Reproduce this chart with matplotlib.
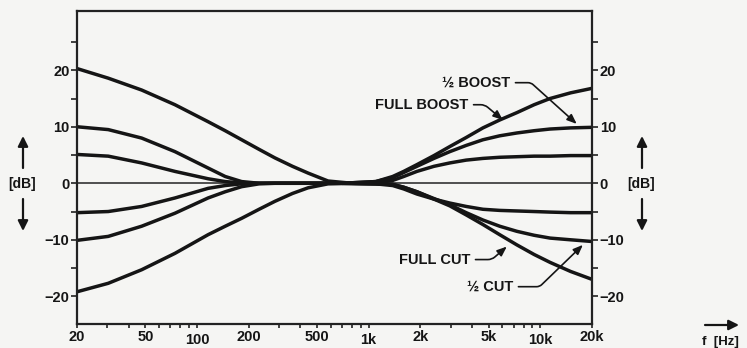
import numpy as np
import matplotlib.pyplot as plt
from matplotlib.patches import FancyArrowPatch

plt.rcParams['font.family'] = ['Liberation Sans', 'DejaVu Sans']
plt.rcParams['font.weight'] = 'bold'

# bass side (Hz / dB)
bass_f = [20, 30.4, 47.6, 74.4, 116, 146, 182, 230, 284, 360, 444, 580, 800, 1200]
bass_full_boost = [20.3, 18.6, 16.5, 13.9, 10.9, 9.3, 7.7, 6.0, 4.5, 3.0, 1.8, 0.4, 0.0, 0.0]
bass_half_boost = [10.0, 9.5, 8.0, 5.6, 2.7, 1.2, 0.3, 0.0, 0.0, 0.0, 0.0, 0.0, 0.0, 0.0]
bass_quarter_boost = [5.1, 4.8, 3.6, 2.1, 0.8, 0.3, 0.05, 0.0, 0.0, 0.0, 0.0, 0.0, 0.0, 0.0]
bass_quarter_cut = [-5.2, -5.0, -4.1, -2.6, -0.9, -0.4, -0.1, 0.0, 0.0, 0.0, 0.0, 0.0, 0.0, 0.0]
bass_half_cut = [-10.1, -9.4, -7.6, -5.3, -2.6, -1.5, -0.6, -0.1, 0.0, 0.0, 0.0, 0.0, 0.0, 0.0]
bass_full_cut = [-19.2, -17.7, -15.3, -12.4, -9.1, -7.6, -6.2, -4.6, -3.2, -1.8, -0.8, -0.1, 0.0, 0.0]

# treble side
treb_f = [700, 1100, 1380, 1600, 1910, 2400, 2970, 3700, 4630, 5800, 7300, 9200, 11400, 15000, 20000]
treb_full_boost = [0.0, 0.3, 1.2, 2.1, 3.3, 4.9, 6.5, 8.1, 9.8, 11.2, 12.5, 13.9, 15.0, 16.0, 16.8]
treb_half_boost = [0.0, 0.3, 1.0, 1.9, 3.0, 4.4, 5.6, 6.7, 7.7, 8.4, 8.9, 9.3, 9.6, 9.8, 9.9]
treb_quarter_boost = [0.0, 0.1, 0.5, 1.2, 2.1, 3.0, 3.6, 4.1, 4.4, 4.6, 4.7, 4.8, 4.8, 4.9, 4.9]
treb_quarter_cut = [0.0, -0.1, -0.4, -1.0, -1.9, -2.8, -3.5, -4.1, -4.6, -4.8, -4.9, -5.0, -5.1, -5.2, -5.2]
treb_half_cut = [0.0, -0.1, -0.2, -0.7, -1.5, -2.7, -3.8, -5.2, -6.5, -7.6, -8.5, -9.2, -9.7, -10.0, -10.3]
treb_full_cut = [0.0, -0.1, -0.2, -0.7, -1.5, -2.8, -4.0, -5.6, -7.3, -9.1, -10.9, -12.6, -14.0, -15.6, -17.0]

xticks = [20, 50, 100, 200, 500, 1000, 2000, 5000, 10000, 20000]
xticklabels = ['20', '50', '100', '200', '500', '1k', '2k', '5k', '10k', '20k']
xminor = [30, 40, 60, 70, 80, 90, 300, 400, 600, 700, 800, 900,
          3000, 4000, 6000, 7000, 8000, 9000]

bg = '#f5f5f3'
ink = '#151515'

fig = plt.figure(figsize=(7.47, 3.48), dpi=100, facecolor=bg)
ax = fig.add_axes([0.1031, 0.069, 0.6894, 0.898])
ax.set_facecolor(bg)

ax.axhline(0, color='#333333', lw=1.2, zorder=1)
for y in [bass_full_boost, bass_half_boost, bass_quarter_boost,
          bass_quarter_cut, bass_half_cut, bass_full_cut]:
    ax.plot(bass_f, y, color=ink, lw=2.5, solid_capstyle='round',
            solid_joinstyle='round', zorder=2)
for y in [treb_full_boost, treb_half_boost, treb_quarter_boost,
          treb_quarter_cut, treb_half_cut, treb_full_cut]:
    ax.plot(treb_f, y, color=ink, lw=2.5, solid_capstyle='round',
            solid_joinstyle='round', zorder=2)

ax.set_xscale('log')
ax.set_xlim(20, 20000)
ax.set_ylim(-24.9, 30.4)
ax.set_xticks(xticks)
ax.set_xticklabels(xticklabels)
ax.set_xticks(xminor, minor=True)
ax.xaxis.set_minor_formatter(plt.NullFormatter())
ax.set_yticks([-20, -10, 0, 10, 20])
ax.set_yticklabels(['\u221220', '\u221210', '0', '10', '20'])
ax.set_yticks([-15, -5, 5, 15, 25], minor=True)

for s in ax.spines.values():
    s.set_linewidth(1.6)
    s.set_color('#222222')

ax.tick_params(axis='both', which='both', direction='out', color='#222222',
               labelsize=10.5, labelcolor=ink)
ax.tick_params(axis='y', which='both', left=True, right=True,
               labelleft=True, labelright=True, length=4, width=1.2, pad=1.5)
ax.tick_params(axis='x', which='both', length=3, width=1.2, pad=1.5)
for t, f in zip(ax.xaxis.get_major_ticks(), xticks):
    if f in (100, 1000, 10000):
        t.tick1line.set_markersize(6)
        t.set_pad(3.5)

# labelled arrows
arrow_kw = dict(arrowstyle='-|>,head_length=0.55,head_width=0.22',
                color=ink, lw=1.2, relpos=(1, 0.5), shrinkA=2, shrinkB=0)
ax.annotate('\u00bd BOOST', xy=(16300, 10.5), xytext=(6650, 17.8),
            ha='right', va='center', fontsize=10.5, color=ink,
            arrowprops=dict(connectionstyle='angle,angleA=0,angleB=-42,rad=3', **arrow_kw))
ax.annotate('FULL BOOST', xy=(6050, 11.2), xytext=(3790, 13.9),
            ha='right', va='center', fontsize=10.5, color=ink,
            arrowprops=dict(connectionstyle='angle,angleA=0,angleB=-40,rad=4', **arrow_kw))
ax.annotate('FULL CUT', xy=(6380, -11.2), xytext=(3890, -13.5),
            ha='right', va='center', fontsize=10.5, color=ink,
            arrowprops=dict(connectionstyle='angle,angleA=0,angleB=41,rad=4', **arrow_kw))
ax.annotate('\u00bd CUT', xy=(17700, -10.9), xytext=(6920, -18.3),
            ha='right', va='center', fontsize=10.5, color=ink,
            arrowprops=dict(connectionstyle='angle,angleA=0,angleB=44,rad=3', **arrow_kw))

# axis unit labels with arrows (figure coords)
W, H = 747.0, 348.0
def fxy(px, py):
    return (px / W, 1 - py / H)

big_arrow = dict(arrowstyle='-|>,head_length=0.6,head_width=0.3', color=ink, lw=1.6,
                 shrinkA=0, shrinkB=0)
for cx in (23, 642):
    fig.text(*fxy(cx - 1, 184), '[dB]', ha='center', va='center', fontsize=10, color=ink)
    fig.add_artist(FancyArrowPatch(fxy(cx, 168), fxy(cx, 136),
                                   transform=fig.transFigure, mutation_scale=10, **big_arrow))
    fig.add_artist(FancyArrowPatch(fxy(cx, 199), fxy(cx, 231),
                                   transform=fig.transFigure, mutation_scale=10, **big_arrow))

fig.text(*fxy(720, 342), 'f  [Hz]', ha='center', va='center', fontsize=9.5, color=ink)
fig.add_artist(FancyArrowPatch(fxy(705, 325), fxy(739, 325),
                               transform=fig.transFigure, mutation_scale=10, **big_arrow))

fig.savefig('out.png', dpi=100, facecolor=bg)
